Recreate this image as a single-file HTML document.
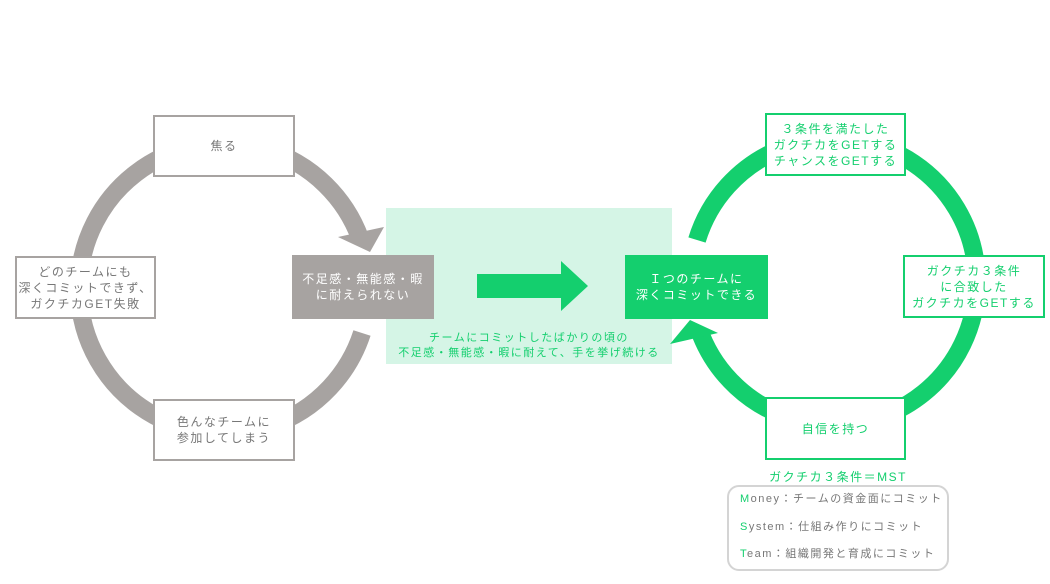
<!DOCTYPE html>
<html><head><meta charset="utf-8"><style>
html,body{margin:0;padding:0;background:#fff;}
body{width:1050px;height:584px;overflow:hidden;position:relative;font-family:"Liberation Sans","Noto Sans CJK JP",sans-serif;}
.b{position:absolute;box-sizing:border-box;display:flex;align-items:center;justify-content:center;text-align:center;font-size:12px;line-height:16px;letter-spacing:1.5px;}
.g{border:2px solid #a7a3a1;background:#fff;color:#777;}
.gr{border:2px solid #14cf6e;background:#fff;color:#14cf6e;}
.t{position:absolute;font-size:11px;line-height:15px;letter-spacing:1.5px;}
</style></head><body>
<svg width="1050" height="584" style="position:absolute;left:0;top:0">
<rect x="386" y="208" width="286" height="156" fill="#d5f5e6"/>
<path d="M 360 238 A 145 145 0 1 0 362 333" fill="none" stroke="#a7a3a1" stroke-width="18"/>
<polygon points="338,237 384,227 370,252" fill="#a7a3a1"/>
<path d="M 697 240 A 143 143 0 1 1 701 335" fill="none" stroke="#14cf6e" stroke-width="18"/>
<polygon points="670,344 690,320 718,333" fill="#14cf6e"/>
<polygon points="477,274 561,274 561,261 588,286 561,311 561,298 477,298" fill="#14cf6e"/>
</svg>
<div class="b g" style="left:153px;top:115px;width:142px;height:62px">焦る</div>
<div class="b g" style="left:15px;top:256px;width:141px;height:63px">どのチームにも<br>深くコミットできず、<br>ガクチカGET失敗</div>
<div class="b g" style="left:153px;top:399px;width:142px;height:62px">色んなチームに<br>参加してしまう</div>
<div class="b" style="left:292px;top:255px;width:142px;height:64px;background:#a7a3a1;color:#fff">不足感・無能感・暇<br>に耐えられない</div>
<div class="b" style="left:625px;top:255px;width:143px;height:64px;background:#14cf6e;color:#fff">Ｉつのチームに<br>深くコミットできる</div>
<div class="t" style="left:386px;top:331px;width:286px;text-align:center;color:#14cf6e">チームにコミットしたばかりの頃の<br>不足感・無能感・暇に耐えて、手を挙げ続ける</div>
<div class="b gr" style="left:765px;top:113px;width:141px;height:63px">３条件を満たした<br>ガクチカをGETする<br>チャンスをGETする</div>
<div class="b gr" style="left:903px;top:255px;width:142px;height:63px">ガクチカ３条件<br>に合致した<br>ガクチカをGETする</div>
<div class="b gr" style="left:765px;top:397px;width:141px;height:63px">自信を持つ</div>
<div class="t" style="left:727px;top:470px;width:222px;text-align:center;color:#14cf6e;font-size:12px">ガクチカ３条件＝MST</div>
<div style="position:absolute;left:727px;top:485px;width:222px;height:86px;box-sizing:border-box;border:2px solid #d4d4d4;border-radius:12px"></div>
<div class="t" style="left:740px;top:492px;color:#777"><span style="color:#14cf6e">M</span>oney：チームの資金面にコミット</div>
<div class="t" style="left:740px;top:520px;color:#777"><span style="color:#14cf6e">S</span>ystem：仕組み作りにコミット</div>
<div class="t" style="left:740px;top:547px;color:#777"><span style="color:#14cf6e">T</span>eam：組織開発と育成にコミット</div>
</body></html>
